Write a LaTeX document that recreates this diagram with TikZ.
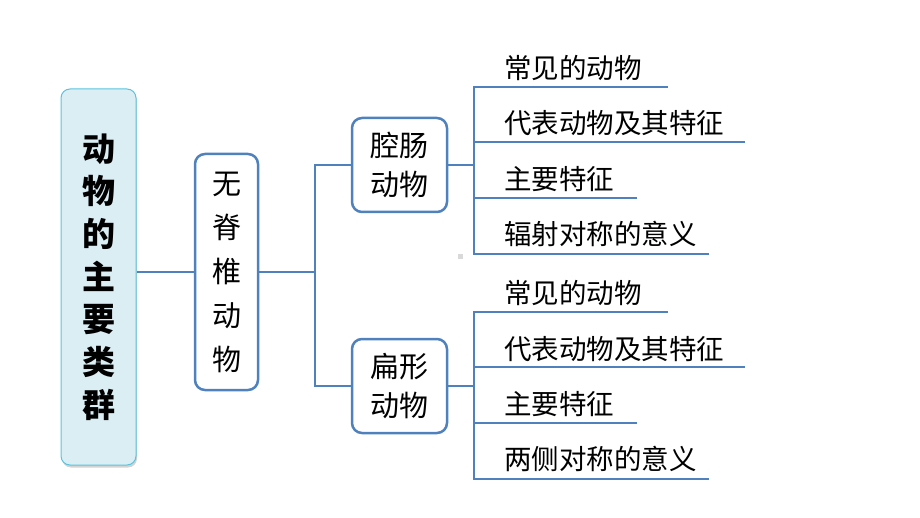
\documentclass[tikz,border=0pt]{standalone}
\usepackage{fontspec}
\setmainfont{Noto Sans CJK SC}
\usetikzlibrary{shadows}
\definecolor{lineblue}{HTML}{4F81BD}
\definecolor{boxfill}{HTML}{DAEEF3}
\definecolor{boxedge}{HTML}{5BC3DD}
\begin{document}
\begin{tikzpicture}[x=1pt,y=-1pt]
\useasboundingbox (0,0) rectangle (920,518);
\tikzset{
  conn/.style={lineblue, line width=2.5pt},
  mainbox/.style={draw=boxedge, fill=boxfill, line width=1pt, rounded corners=9pt,
    minimum width=75pt, minimum height=376pt, inner sep=0pt, align=center,
    drop shadow={shadow xshift=1pt, shadow yshift=-2.5pt, opacity=0.35},
    font=\fontsize{33}{42.7}\selectfont\bfseries},
  subbox/.style={draw=lineblue, fill=white, line width=2.5pt, rounded corners=10pt,
    inner sep=0pt, align=center},
  leaf/.style={anchor=west, inner sep=0pt, font=\fontsize{27.5}{28}\selectfont}
}
% main box
\node[mainbox] (main) at (98.5,277) {动\\物\\的\\主\\要\\类\\群};
% level 1
\node[subbox, minimum width=63pt, minimum height=236pt,
  font=\fontsize{29}{44}\selectfont] (wuji) at (226.5,272) {无\\脊\\椎\\动\\物};
% level 2
\node[subbox, minimum width=95pt, minimum height=94pt,
  font=\fontsize{29}{38.5}\selectfont] (qc) at (399.5,165) {腔肠\\动物};
\node[subbox, minimum width=95pt, minimum height=94pt,
  font=\fontsize{29}{38.5}\selectfont] (bx) at (399.5,386) {扁形\\动物};
% connectors
\coordinate (b0) at (315,272);
\draw[conn] (main.east |- wuji.west) -- (wuji.west);
\draw[conn] (wuji.east) -- (b0);
\draw[conn] (qc.west) -| (b0) |- (bx.west);
% branch of qc
\coordinate (c1) at (474,165);
\draw[conn] (qc.east) -- (c1);
\coordinate (e11) at (668,87);
\coordinate (e12) at (745,142);
\coordinate (e13) at (637,198);
\coordinate (e14) at (709,254);
\draw[conn] (c1) |- (e11);
\draw[conn] (c1) |- (e12);
\draw[conn] (c1) |- (e13);
\draw[conn] (c1) |- (e14);
\node[leaf] (t11) at (504,68) {常见的动物};
\node[leaf] (t12) at (504,123) {代表动物及其特征};
\node[leaf] (t13) at (504,179) {主要特征};
\node[leaf] (t14) at (504,234) {辐射对称的意义};
% branch of bx
\coordinate (c2) at (474,386);
\draw[conn] (bx.east) -- (c2);
\coordinate (e21) at (668,312);
\coordinate (e22) at (745,367);
\coordinate (e23) at (637,423);
\coordinate (e24) at (709,479);
\draw[conn] (c2) |- (e21);
\draw[conn] (c2) |- (e22);
\draw[conn] (c2) |- (e23);
\draw[conn] (c2) |- (e24);
\node[leaf] (t21) at (504,293) {常见的动物};
\node[leaf] (t22) at (504,349) {代表动物及其特征};
\node[leaf] (t23) at (504,404) {主要特征};
\node[leaf] (t24) at (504,459) {两侧对称的意义};
% small grey mark
\fill[black!15] (458,254) rectangle (463,259);
\end{tikzpicture}
\end{document}
